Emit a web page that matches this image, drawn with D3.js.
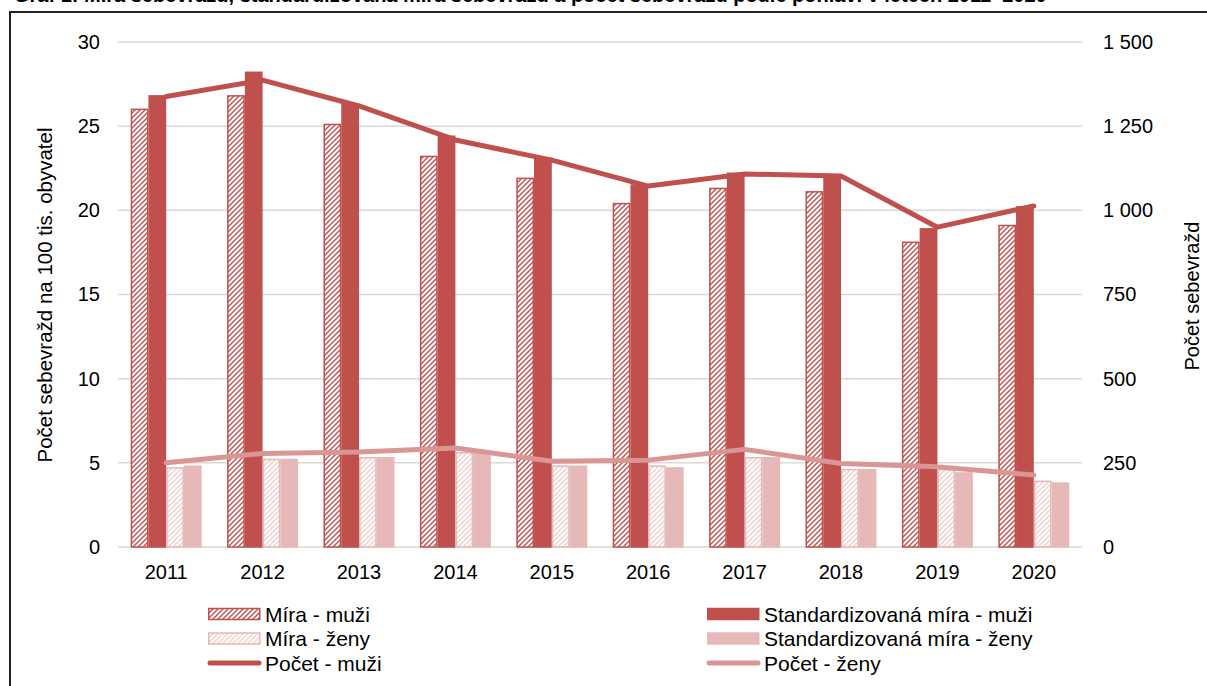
<!DOCTYPE html>
<html>
<head>
<meta charset="utf-8">
<style>
  body { margin: 0; background: #fff; }
  svg text { font-family: "Liberation Sans", Arial, sans-serif; fill: #000; }
</style>
</head>
<body>
<svg width="1207" height="686"></svg>
<script src="https://d3js.org/d3.v7.min.js"></script>
<script>
var years = [2011, 2012, 2013, 2014, 2015, 2016, 2017, 2018, 2019, 2020];
var miraMuzi = [26.0, 26.8, 25.1, 23.2, 21.9, 20.4, 21.3, 21.1, 18.1, 19.1];
var stdMuzi = [26.8, 28.2, 26.3, 24.4, 23.1, 21.5, 22.2, 22.1, 18.9, 20.2];
var miraZeny = [4.7, 5.2, 5.3, 5.6, 4.8, 4.8, 5.3, 4.6, 4.6, 3.9];
var stdZeny = [4.8, 5.2, 5.3, 5.6, 4.8, 4.7, 5.3, 4.6, 4.4, 3.8];
var pocetMuzi = [1338, 1387, 1310, 1209, 1149, 1072, 1108, 1102, 950, 1013];
var pocetZeny = [250, 278, 282, 294, 255, 258, 290, 248, 238, 214];
var leftTicks = [0, 5, 10, 15, 20, 25, 30];
var rightTicks = [0, 250, 500, 750, 1000, 1250, 1500];

var dark = "#C0504D", light = "#E6B9B8", lineLight = "#D99694";

var svg = d3.select("svg");
var defs = svg.append("defs");

function hatch(id, fg) {
  var p = defs.append("pattern").attr("id", id).attr("patternUnits", "userSpaceOnUse")
    .attr("width", 5).attr("height", 5);
  p.append("rect").attr("width", 5).attr("height", 5).attr("fill", "#fff");
  p.append("path").attr("d", "M-1,1 l2,-2 M0,5 l5,-5 M4,6 l2,-2")
    .attr("stroke", fg).attr("stroke-width", 1.4);
}
hatch("hMuzi", dark);
hatch("hZeny", "#F0CFCE");

// title (cut off at the top edge, as in the source) and frame
svg.append("text").attr("x", 14).attr("y", 2).style("font-weight", "bold").style("font-size", "20px")
  .text("Graf 1: Míra sebevražd, standardizovaná míra sebevražd a počet sebevražd podle pohlaví v letech 2011–2020");
svg.append("rect").attr("x", 10).attr("y", 12).attr("width", 1210).attr("height", 700)
  .attr("fill", "none").attr("stroke", "#222").attr("stroke-width", 2);

var x = d3.scaleBand().domain(years).range([118, 1082]);
var y = d3.scaleLinear().domain([0, 30]).range([547, 42]);
var y2 = d3.scaleLinear().domain([0, 1500]).range([547, 42]);
var sub = d3.scaleBand().domain([0, 1, 2, 3]).range([-35.5, 35.5]);

// gridlines
svg.append("g").selectAll("line").data(leftTicks).join("line")
  .attr("x1", 118).attr("x2", 1082)
  .attr("y1", function(d) { return y(d); }).attr("y2", function(d) { return y(d); })
  .attr("stroke", "#D9D9D9").attr("stroke-width", 1.5);

// axes
var fmt = function(d) { return d3.format(",")(d).replace(/,/g, " "); };
var ga = svg.append("g").attr("transform", "translate(118,0)")
  .call(d3.axisLeft(y).tickValues(leftTicks).tickSize(0).tickPadding(18));
var gb = svg.append("g").attr("transform", "translate(1082,0)")
  .call(d3.axisRight(y2).tickValues(rightTicks).tickSize(0).tickPadding(21).tickFormat(fmt));
var gx = svg.append("g").attr("transform", "translate(0,547)")
  .call(d3.axisBottom(x).tickSize(0).tickPadding(18));
[ga, gb, gx].forEach(function(g) {
  g.select(".domain").remove();
  g.selectAll("text").style("font-size", "20px").style("font-family", "Liberation Sans, Arial, sans-serif");
});

// bars
var series = [
  { vals: miraMuzi, fill: "url(#hMuzi)", stroke: dark },
  { vals: stdMuzi, fill: dark, stroke: dark },
  { vals: miraZeny, fill: "url(#hZeny)", stroke: light },
  { vals: stdZeny, fill: light, stroke: light }
];
series.forEach(function(s, si) {
  svg.append("g").selectAll("rect").data(s.vals).join("rect")
    .attr("x", function(d, i) { return x(years[i]) + x.bandwidth() / 2 + sub(si) + 0.75; })
    .attr("width", sub.bandwidth() - 1.5)
    .attr("y", function(d) { return y(d); })
    .attr("height", function(d) { return 547 - y(d); })
    .attr("fill", s.fill).attr("stroke", s.stroke).attr("stroke-width", 1.5);
});

// lines
var line = d3.line()
  .x(function(d, i) { return x(years[i]) + x.bandwidth() / 2; })
  .y(function(d) { return y2(d); });
svg.append("path").datum(pocetZeny).attr("d", line).attr("fill", "none")
  .attr("stroke", lineLight).attr("stroke-width", 5).attr("stroke-linecap", "round").attr("stroke-linejoin", "round");
svg.append("path").datum(pocetMuzi).attr("d", line).attr("fill", "none")
  .attr("stroke", dark).attr("stroke-width", 5).attr("stroke-linecap", "round").attr("stroke-linejoin", "round");

// axis titles
svg.append("text").attr("transform", "translate(52,295) rotate(-90)").attr("text-anchor", "middle")
  .style("font-size", "20.5px").text("Počet sebevražd na 100 tis. obyvatel");
svg.append("text").attr("transform", "translate(1199,296) rotate(-90)").attr("text-anchor", "middle")
  .style("font-size", "20px").text("Počet sebevražd");

// legend
var legend = [
  { label: "Míra - muži", type: "rect", fill: "url(#hMuzi)", stroke: dark, col: 0, row: 0 },
  { label: "Míra - ženy", type: "rect", fill: "url(#hZeny)", stroke: light, col: 0, row: 1 },
  { label: "Počet - muži", type: "line", stroke: dark, col: 0, row: 2 },
  { label: "Standardizovaná míra - muži", type: "rect", fill: dark, stroke: dark, col: 1, row: 0 },
  { label: "Standardizovaná míra - ženy", type: "rect", fill: light, stroke: light, col: 1, row: 1 },
  { label: "Počet - ženy", type: "line", stroke: lineLight, col: 1, row: 2 }
];
var colX = [208, 707];
var lg = svg.append("g").selectAll("g").data(legend).join("g")
  .attr("transform", function(d) { return "translate(" + colX[d.col] + "," + (614 + d.row * 24.5) + ")"; });
lg.filter(function(d) { return d.type == "rect"; }).append("rect")
  .attr("x", 0.75).attr("y", -5.5).attr("width", 51).attr("height", 11)
  .attr("fill", function(d) { return d.fill; }).attr("stroke", function(d) { return d.stroke; }).attr("stroke-width", 1.5);
lg.filter(function(d) { return d.type == "line"; }).append("line")
  .attr("x1", 2).attr("x2", 51).attr("y1", 0).attr("y2", 0)
  .attr("stroke", function(d) { return d.stroke; }).attr("stroke-width", 5).attr("stroke-linecap", "round");
lg.append("text").attr("x", 57).attr("y", 7.5).style("font-size", "21px").text(function(d) { return d.label; });
</script>
</body>
</html>
